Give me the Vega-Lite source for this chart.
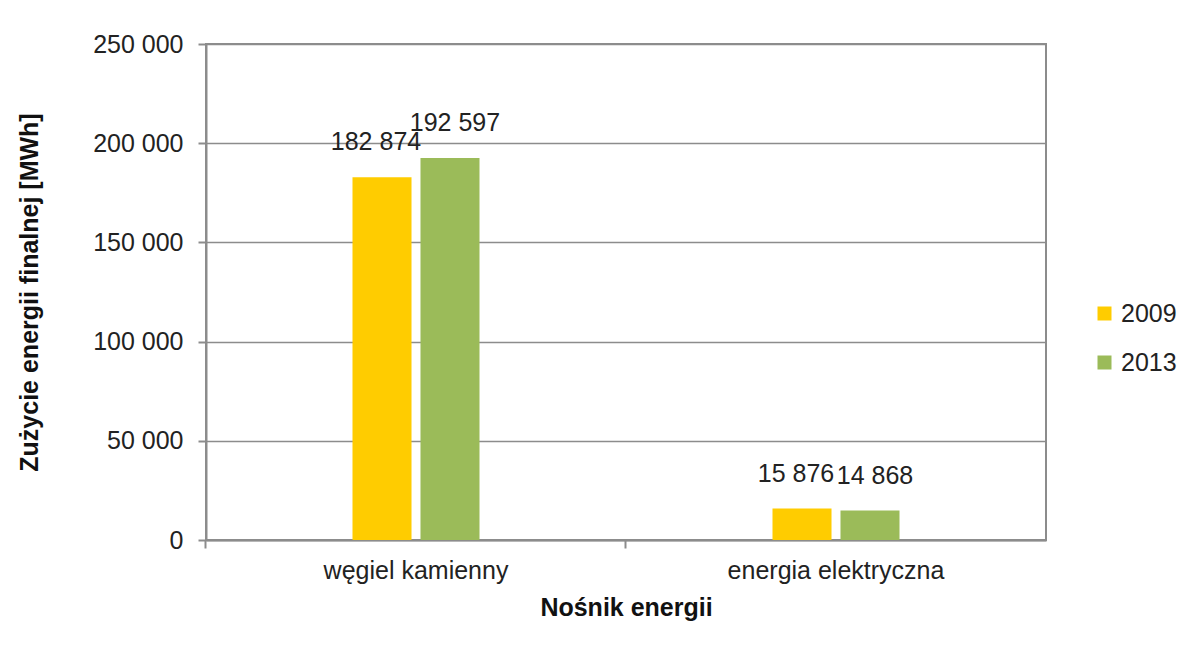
{
  "$schema": "https://vega.github.io/schema/vega-lite/v6.json",
  "width": 840,
  "height": 496,
  "autosize": "none",
  "padding": {"left": 206, "top": 44, "right": 155, "bottom": 116},
  "background": "white",
  "data": {
    "values": [
      {"nosnik": "węgiel kamienny", "rok": "2009", "wartosc": 182874},
      {"nosnik": "węgiel kamienny", "rok": "2013", "wartosc": 192597},
      {"nosnik": "energia elektryczna", "rok": "2009", "wartosc": 15876},
      {"nosnik": "energia elektryczna", "rok": "2013", "wartosc": 14868}
    ]
  },
  "encoding": {
    "x": {
      "field": "nosnik", "type": "nominal", "sort": ["węgiel kamienny", "energia elektryczna"],
      "scale": {"paddingInner": 0.6976, "paddingOuter": 0.3488},
      "axis": {"title": "Nośnik energii", "labelAngle": 0, "bandPosition": -1.1535, "labelLimit": 400, "labelPadding": 10, "titlePadding": 12}
    },
    "xOffset": {"field": "rok", "type": "nominal", "scale": {"paddingInner": 0.132, "paddingOuter": 0}},
    "y": {
      "field": "wartosc", "type": "quantitative",
      "scale": {"domain": [0, 250000]},
      "axis": {"title": "Zużycie energii finalnej [MWh]", "values": [0, 50000, 100000, 150000, 200000, 250000], "format": ",d", "labelPadding": 15, "titlePadding": 50}
    }
  },
  "layer": [
    {
      "mark": {"type": "bar"},
      "encoding": {
        "color": {
          "field": "rok", "type": "nominal",
          "scale": {"domain": ["2009", "2013"], "range": ["#FFCC00", "#9BBB59"]},
          "legend": {"title": null, "orient": "none", "legendX": 886, "legendY": 257, "symbolType": "square", "symbolSize": 196, "rowPadding": 23, "labelFontSize": 25, "labelFont": "Liberation Sans", "labelColor": "#222222", "symbolStrokeWidth": 0, "labelOffset": 4}
        }
      }
    },
    {
      "transform": [{"filter": "datum.rok == '2009'"}],
      "mark": {"type": "text", "baseline": "alphabetic", "dy": -27, "dx": -6, "fontSize": 25, "font": "Liberation Sans", "color": "#222222"},
      "encoding": {
        "text": {"field": "wartosc", "type": "quantitative", "format": ",d"}
      }
    },
    {
      "transform": [{"filter": "datum.rok == '2013'"}],
      "mark": {"type": "text", "baseline": "alphabetic", "dy": -27, "dx": 5, "fontSize": 25, "font": "Liberation Sans", "color": "#222222"},
      "encoding": {
        "text": {"field": "wartosc", "type": "quantitative", "format": ",d"}
      }
    }
  ],
  "config": {
    "locale": {"number": {"decimal": ",", "thousands": " ", "grouping": [3], "currency": ["", ""]}},
    "view": {"stroke": "#8c8c8c", "strokeWidth": 2},
    "axis": {
      "labelFont": "Liberation Sans", "labelFontSize": 25, "labelColor": "#222222",
      "titleFont": "Liberation Sans", "titleFontSize": 25, "titleFontWeight": "bold", "titleColor": "#111111",
      "domainColor": "#8c8c8c", "domainWidth": 2, "tickColor": "#8c8c8c", "tickWidth": 2, "tickSize": 8,
      "gridColor": "#8c8c8c", "gridWidth": 1.5
    },
    "axisX": {"grid": false},
    "axisY": {"grid": true}
  }
}
